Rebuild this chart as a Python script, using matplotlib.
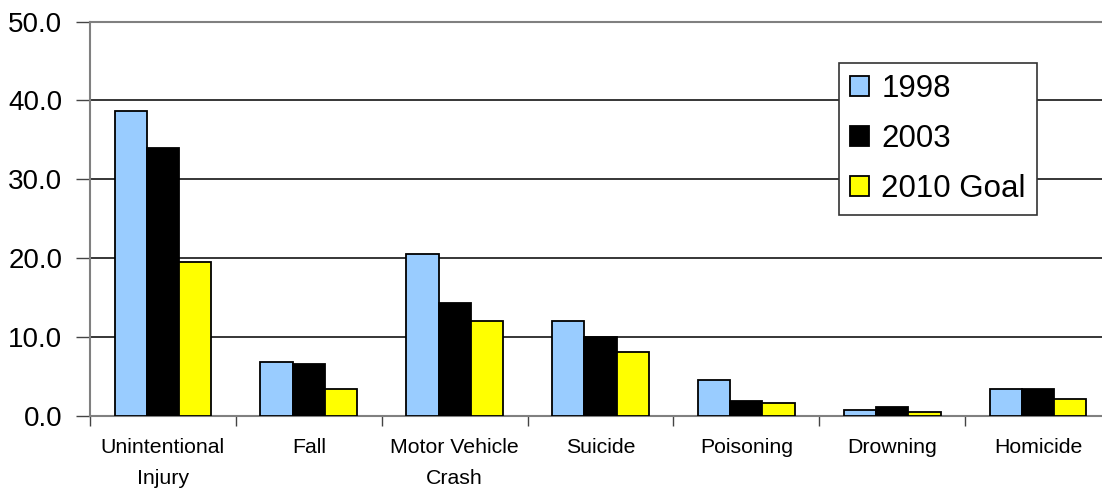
import matplotlib
matplotlib.use("Agg")
import matplotlib.pyplot as plt
import numpy as np

plt.rcParams['font.family'] = ['Liberation Sans', 'DejaVu Sans']

categories = ["Unintentional\nInjury", "Fall", "Motor Vehicle\nCrash", "Suicide",
              "Poisoning", "Drowning", "Homicide"]
series_names = ["1998", "2003", "2010 Goal"]
rate_1998 = [38.6, 6.8, 20.5, 12.1, 4.5, 0.8, 3.4]
rate_2003 = [34.0, 6.6, 14.3, 10.0, 1.9, 1.1, 3.4]
goal_2010 = [19.5, 3.4, 12.1, 8.1, 1.6, 0.5, 2.1]
yticks = [0, 10, 20, 30, 40, 50]

colors = ['#99CCFF', '#000000', '#FFFF00']
W, H = 1102, 491
fig = plt.figure(figsize=(W / 100, H / 100), dpi=100)
ax = fig.add_axes([90 / W, 1 - 416 / H, (1111 - 90) / W, (416 - 21.5) / H])

x = np.arange(len(categories)) + 0.5
width = 0.221
for i, (name, vals) in enumerate(zip(series_names, [rate_1998, rate_2003, goal_2010])):
    ax.bar(x + (i - 1) * width, vals, width, color=colors[i], edgecolor='black',
           linewidth=1.3, label=name, zorder=3)

ax.set_xlim(0, len(categories))
ax.set_ylim(0, 50)
ax.set_yticks(yticks)
ax.set_yticklabels([f"{v:.1f}" for v in yticks], fontsize=20)
ax.set_xticks(x)
ax.set_xticklabels(categories, fontsize=15.3, linespacing=1.78)
ax.set_xticks(np.arange(len(categories) + 1), minor=True)
ax.tick_params(axis='x', which='major', length=0, pad=16)
ax.tick_params(axis='x', which='minor', length=7, width=1, color='#444444')
ax.tick_params(axis='y', length=10, width=1, color='#444444', pad=10)

for y in yticks[1:-1]:
    ax.axhline(y, color='black', linewidth=1.1, zorder=1)

for side in ['left', 'bottom', 'top']:
    ax.spines[side].set_color('#808080')
    ax.spines[side].set_linewidth(1.5)
ax.spines['right'].set_visible(False)

leg = fig.legend(loc='upper left', bbox_to_anchor=(839 / W, 1 - 63 / H),
                 fontsize=22.5, frameon=True, fancybox=False, framealpha=1,
                 edgecolor='#333333', borderaxespad=0, handlelength=0.6,
                 handleheight=0.6, handletextpad=0.4, labelspacing=0.64,
                 borderpad=0.35)
leg.get_frame().set_linewidth(1.2)

fig.savefig("out.png", dpi=100)
